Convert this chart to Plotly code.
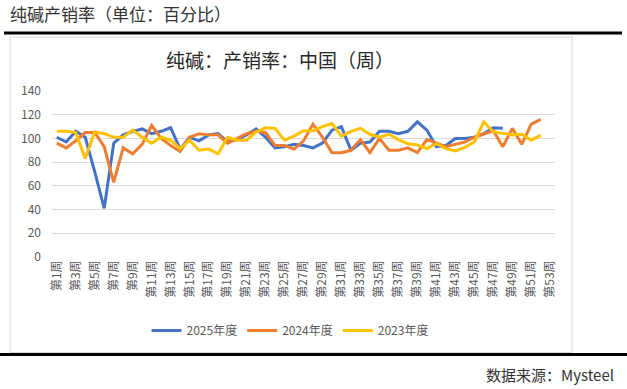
import plotly.graph_objects as go

weeks = list(range(1, 54))
tick_weeks = list(range(1, 54, 2))
tick_labels = [f"第{w}周" for w in tick_weeks]

series_names = ["2025年度", "2024年度", "2023年度"]

v2025 = [101, 97, 106, 101, 72, 41, 96, 103, 106, 108, 104, 106, 109, 91, 101, 98, 103, 104,
         97, 99, 103, 108, 101, 92, 93, 95, 94, 92, 96, 107, 110, 90, 96, 97, 106, 106, 104,
         106, 114, 107, 93, 94, 100, 100, 101, 104, 109, 108.5]
v2024 = [96, 92, 98, 105, 105, 93, 63, 92, 87, 95, 111, 100, 94, 89, 101, 104, 103, 103,
         96, 100, 104, 106, 105, 94, 94, 91, 98, 112, 101, 88, 88, 90, 99, 88, 100, 90, 90,
         92, 88, 99, 96, 93, 95, 97, 101, 104, 106.5, 93, 108.5, 95, 112, 116]
v2023 = [106, 106, 105, 83, 105.5, 104, 101, 101, 107, 101, 96, 101, 98.5, 91.5, 98.5, 90,
         91, 87, 101, 98.5, 98.5, 105.5, 109, 108.5, 98.5, 102, 106.5, 106.5, 110, 112.5, 102,
         106, 108.5, 103.5, 101, 103.5, 99, 95.5, 94.5, 91.5, 95.5, 91.5, 89.5, 92.5, 97,
         114, 105.5, 104.5, 103, 103.5, 98.5, 102.5]

colors = ["#4472C4", "#ED7D31", "#FFC000"]
values = [v2025, v2024, v2023]

FONT = "Noto Sans CJK SC"

fig = go.Figure()
for name, vals, c in zip(series_names, values, colors):
    fig.add_trace(go.Scatter(
        x=weeks[:len(vals)], y=vals, mode="lines", name=name,
        line=dict(color=c, width=3), hoverinfo="skip"))

W, H = 627, 389
L, R, T, B = 52, 555, 91, 256.7


def px(x):
    return (x - L) / (R - L)


def py(y):
    return (B - y) / (B - T)


fig.update_layout(
    width=W, height=H,
    margin=dict(l=L, r=W - R, t=T, b=H - B),
    paper_bgcolor="white", plot_bgcolor="white",
    font=dict(family=FONT, color="#595959", size=12),
    showlegend=True,
    legend=dict(orientation="h", x=px(290), xanchor="center", xref="paper",
                y=py(330), yanchor="middle", font=dict(size=12, color="#595959"),
                itemwidth=30, tracegroupgap=0, bgcolor="rgba(0,0,0,0)"),
    xaxis=dict(range=[0.5, 53.5], tickmode="array", tickvals=tick_weeks,
               ticktext=tick_labels, tickangle=-90, tickfont=dict(size=12, color="#595959"),
               showgrid=False, zeroline=False, showline=False, ticks=""),
    yaxis=dict(range=[0, 140], dtick=20, showgrid=True, gridcolor="#D9D9D9", gridwidth=1,
               zeroline=False, showline=False, ticks="", ticklabelstandoff=10,
               tickfont=dict(size=12, color="#595959")),
    shapes=[
        dict(type="rect", xref="paper", yref="paper",
             x0=px(10), x1=px(572), y0=py(352), y1=py(37),
             line=dict(color="#D9D9D9", width=1), fillcolor="rgba(0,0,0,0)", layer="below"),
        dict(type="line", xref="paper", yref="paper",
             x0=px(4), x1=px(622), y0=py(33), y1=py(33),
             line=dict(color="black", width=3)),
        dict(type="line", xref="paper", yref="paper",
             x0=px(0), x1=px(627), y0=py(354), y1=py(354),
             line=dict(color="black", width=3)),
    ],
    annotations=[
        dict(text="纯碱产销率（单位：百分比）", xref="paper", yref="paper",
             x=px(8), y=py(14), xanchor="left", yanchor="middle",
             showarrow=False, font=dict(size=17, color="#333333", family=FONT)),
        dict(text="纯碱：产销率：中国（周）", xref="paper", yref="paper",
             x=px(280), y=py(60), xanchor="center", yanchor="middle",
             showarrow=False, font=dict(size=19, color="#262626", family=FONT)),
        dict(text="数据来源：Mysteel", xref="paper", yref="paper",
             x=px(616), y=py(374), xanchor="right", yanchor="middle",
             showarrow=False, font=dict(size=15, color="#333333", family=FONT)),
    ],
)

fig.write_html("out.html", post_script="document.body.style.margin='0';",
               config={"displayModeBar": False})
